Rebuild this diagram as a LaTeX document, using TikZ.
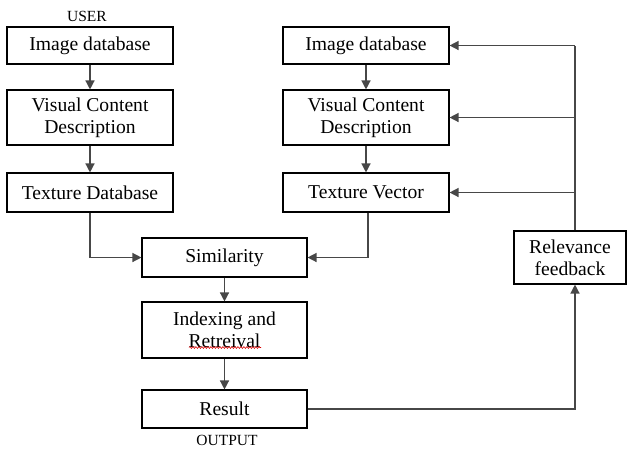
\documentclass[tikz,border=0pt]{standalone}
\usepackage{fontspec}
\setmainfont{Liberation Serif}
\usetikzlibrary{arrows.meta,decorations.pathmorphing}
\begin{document}
\begin{tikzpicture}[x=1pt,y=-1pt,
  box/.style={draw=black,line width=1.1pt,minimum width=166pt,align=center,
    inner sep=0pt,font=\fontsize{19.6}{22}\selectfont},
  link/.style={draw=black!72,line width=1.3pt,-{Triangle[length=9pt,width=9pt]}},
  plain/.style={draw=black!72,line width=1.3pt},
  tag/.style={font=\fontsize{15.5}{18}\selectfont}]
\useasboundingbox (0,0) rectangle (627,448);

% query side
\node[box,minimum height=37pt] (ldb)  at (90,45.5)  {Image database};
\node[box,minimum height=55pt] (lvcd) at (90,117.5) {Visual Content\\Description};
\node[box,minimum height=39pt] (ltex) at (90,192.5) {Texture Database};
\node[tag] (user) at (87,16) {USER};

% database side
\node[box,minimum height=37pt] (rdb)  at (366,45.5)  {Image database};
\node[box,minimum height=55pt] (rvcd) at (366,117.5) {Visual Content\\Description};
\node[box,minimum height=39pt] (rvec) at (366,192.5) {Texture Vector};

% matching chain
\node[box,minimum width=165pt,minimum height=39pt] (sim) at (224.5,257.5) {Similarity};
\node[box,minimum width=165pt,minimum height=56pt] (idx) at (224.5,330) {Indexing and\\Retreival};
\node[box,minimum width=165pt,minimum height=38pt] (res) at (224.5,409) {Result};
\node[tag] (out) at (227,440) {OUTPUT};

% feedback
\node[box,minimum width=112pt,minimum height=53pt] (rel) at (570,257.5) {Relevance\\feedback};

% spell-check underline
\draw[red!85!black,line width=0.6pt,decorate,
  decoration={snake,amplitude=0.9pt,segment length=3pt}] (189,347.5) -- (261,347.5);

% vertical flows
\draw[link] (ldb) -- (lvcd);
\draw[link] (lvcd) -- (ltex);
\draw[link] (rdb) -- (rvcd);
\draw[link] (rvcd) -- (rvec);
\draw[link] (sim) -- (idx);
\draw[link] (idx) -- (res);

% into similarity
\draw[link] (ltex.south) |- (sim.west);
\draw[link] (rvec.south -| 368,0) |- (sim.east);

% result to feedback, feedback to database side
\coordinate (fbot) at (575,0);
\draw[link] (res.east) -| (rel.south -| fbot);
\draw[plain] (rel.north -| fbot) -- (rdb.east -| fbot);
\draw[link] (rdb.east -| fbot) -- (rdb.east);
\draw[link] (rvcd.east -| fbot) -- (rvcd.east);
\draw[link] (rvec.east -| fbot) -- (rvec.east);
\end{tikzpicture}
\end{document}
